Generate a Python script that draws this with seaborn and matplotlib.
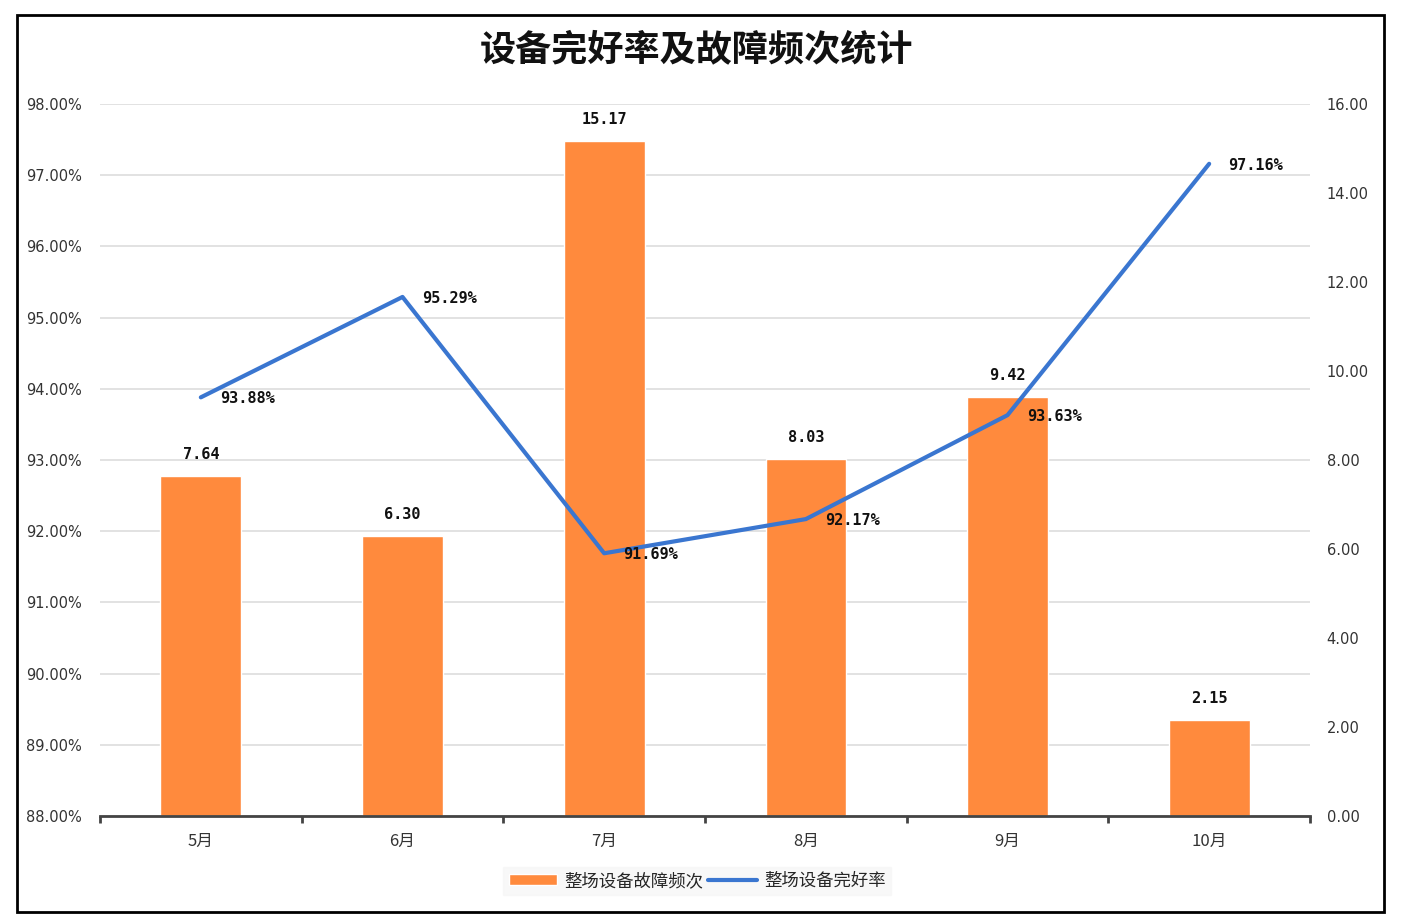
import matplotlib
matplotlib.use("Agg")
import matplotlib.pyplot as plt
from matplotlib.patches import Rectangle
import seaborn as sns
import pandas as pd

months = ["5月", "6月", "7月", "8月", "9月", "10月"]
fault_freq = [7.64, 6.30, 15.17, 8.03, 9.42, 2.15]
intact_rate = [93.88, 95.29, 91.69, 92.17, 93.63, 97.16]
left_ticks = [88, 89, 90, 91, 92, 93, 94, 95, 96, 97, 98]
right_ticks = [0, 2, 4, 6, 8, 10, 12, 14, 16]

sns.set_theme(style="white")
plt.rcParams['font.family'] = ['Noto Sans CJK SC', 'DejaVu Sans']

bar_color = "#FF8A3D"
line_color = "#3A76D0"

df = pd.DataFrame({"month": months, "freq": fault_freq, "rate": intact_rate})

fig = plt.figure(figsize=(14.02, 9.24), dpi=100)
ax = fig.add_axes([100/1402, 1-816/924, 1210/1402, 712/924])
ax2 = ax.twinx()

# Bars on right axis
sns.barplot(data=df, x="month", y="freq", ax=ax2, color=bar_color, width=0.4,
            saturation=1, label="整场设备故障频次")
ax2.set_ylim(0, 16)
ax2.set_yticks(right_ticks)
ax2.set_yticklabels([f"{v:.2f}" for v in right_ticks], fontsize=10.5,
                    family=['DejaVu Sans'], color="#333333")
ax2.set_ylabel("")
ax2.set_xlabel("")
for i, v in enumerate(fault_freq):
    ax2.annotate(f"{v:.2f}", (i, v), xytext=(0, 10), textcoords="offset points",
                 ha="center", va="bottom", fontsize=11, fontweight="bold",
                 family="DejaVu Sans Mono", color="#111111")

# Line on left axis
ax.set_zorder(ax2.get_zorder() + 1)
ax.patch.set_visible(False)
sns.lineplot(data=df, x="month", y="rate", ax=ax, color=line_color, linewidth=3,
             sort=False, label="整场设备完好率")
ax.set_ylim(88, 98)
ax.set_yticks(left_ticks)
ax.set_yticklabels([f"{v:.2f}%" for v in left_ticks], fontsize=10.5,
                   family=['DejaVu Sans'], color="#333333")
ax.set_xlabel("")
ax.set_ylabel("")
for i, v in enumerate(intact_rate):
    ax.annotate(f"{v:.2f}%", (i, v), xytext=(14, -1), textcoords="offset points",
                ha="left", va="center", fontsize=11, fontweight="bold",
                family="DejaVu Sans Mono", color="#111111")

ax.set_xlim(-0.5, len(months) - 0.5)
ax2.set_xlim(-0.5, len(months) - 0.5)

# Grid lines
for t in left_ticks:
    ax2.axhline(0 + (t - 88) * 1.6, color="#dddddd", linewidth=1.2, zorder=0)

for a in (ax, ax2):
    for s in a.spines.values():
        s.set_visible(False)
ax.spines["bottom"].set_visible(True)
ax.spines["bottom"].set_color("#444444")
ax.spines["bottom"].set_linewidth(2)

ax.set_xticks(range(len(months)))
ax.set_xticklabels(months, fontsize=12, color="#333333")
ax.tick_params(axis="x", length=0, pad=12)
ax.tick_params(axis="y", length=0, pad=13)
ax2.tick_params(axis="y", length=0, pad=12)
# category boundary ticks
for b in [x - 0.5 for x in range(len(months) + 1)]:
    ax.plot([b, b], [88, 87.9], color="#444444", linewidth=2, clip_on=False,
            solid_capstyle="butt")

# Legend
ax.get_legend().remove() if ax.get_legend() else None
ax2.get_legend().remove() if ax2.get_legend() else None
h1, l1 = ax2.get_legend_handles_labels()
h2, l2 = ax.get_legend_handles_labels()
leg = fig.legend(h1 + h2, l1 + l2, loc="center", bbox_to_anchor=(697/1402, 1-881/924),
                 ncol=2, frameon=True, fontsize=12.5, handlelength=2.8, handleheight=0.6,
                 columnspacing=0.3, handletextpad=0.4, borderpad=0.3)
leg.get_frame().set_facecolor("#f7f7f7")
leg.get_frame().set_edgecolor("#f7f7f7")
leg.get_frame().set_boxstyle("square", pad=0)

fig.suptitle("设备完好率及故障频次统计", x=0.497, y=1-50/924, va="center",
             fontsize=26, fontweight="bold", color="#111111")

# Outer border
fig.patches.append(Rectangle((17/1402, 1-912/924), 1367/1402, 897/924,
                             transform=fig.transFigure, fill=False,
                             edgecolor="black", linewidth=2))

fig.savefig("out.png", dpi=100)
